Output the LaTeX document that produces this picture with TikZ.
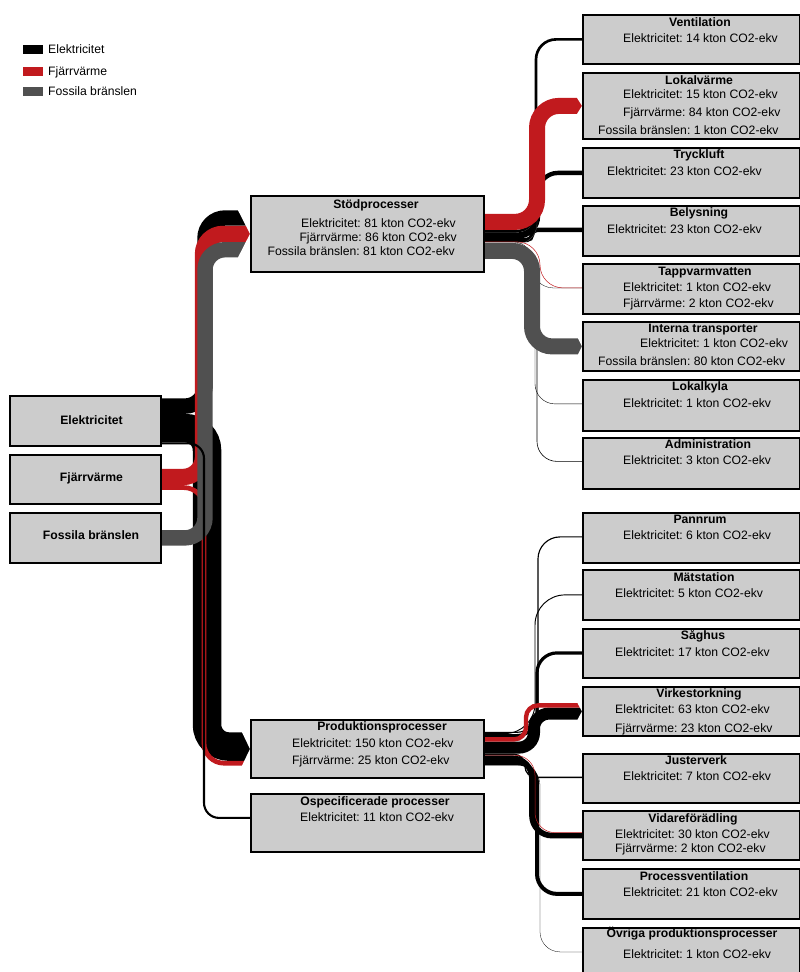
\documentclass[tikz,border=0pt]{standalone}
\usepackage{fontspec}
\setmainfont{Liberation Sans}
\frenchspacing
\usetikzlibrary{calc}
\definecolor{elc}{RGB}{0,0,0}
\definecolor{fvc}{RGB}{193,26,30}
\definecolor{fsc}{RGB}{80,80,80}
\definecolor{boxc}{RGB}{204,204,204}
\pgfdeclarelayer{links}
\pgfsetlayers{links,main}
\tikzset{
  box/.style={draw=black, line width=1.8pt, fill=boxc, rectangle, inner sep=0pt, anchor=north west},
  val/.style={inner sep=0pt, font=\fontsize{12.2}{14}\selectfont, text height=8.8pt, text depth=0pt, anchor=west},
  ttl/.style={inner sep=0pt, font=\fontsize{12.2}{14}\selectfont\bfseries, text height=8.8pt, text depth=0pt},
  swatch/.style={rectangle, inner sep=0pt, minimum width=20pt, minimum height=9pt}
}
% Sankey band: colour, width, corner radius, source node, source offset,
% x of the vertical run, target node, target offset
\newcommand\sankeylink[8]{%
  \coordinate (fs) at ($(#4.east)+(0,#5)$);
  \coordinate (ft) at ($(#7.west)+(0,#8)$);
  \coordinate (fc) at (#6,0);
  \draw[#1, line width=#2pt, rounded corners=#3pt] (fs) -- (fs -| fc) -- (fc |- ft) -- (ft);}
% arrow-shaped end of a bundle at a target: node, top offset, bottom offset, depth
\newcommand\tipcut[4]{%
  \fill[white] ($(#1.west)+(-#4,#2-1)$) -- ($(#1.west)+(-#4,#2)$) -- ($(#1.west)+(0,{(#2+#3)/2})$) -- ($(#1.west)+(0.5,#2-1)$) -- cycle;
  \fill[white] ($(#1.west)+(-#4,#3+1)$) -- ($(#1.west)+(-#4,#3)$) -- ($(#1.west)+(0,{(#2+#3)/2})$) -- ($(#1.west)+(0.5,#3+1)$) -- cycle;}
\begin{document}
\begin{tikzpicture}[x=1pt,y=-1pt]
\useasboundingbox (0,0) rectangle (800,972);

% ---------- boxes ----------
\node[box, minimum width=151pt, minimum height=50pt] (elec) at (9,395) {};
\node[box, minimum width=151pt, minimum height=49pt] (fjv) at (9,454) {};
\node[box, minimum width=151pt, minimum height=50pt] (fos) at (9,512) {};
\node[box, minimum width=233pt, minimum height=76pt] (stod) at (250,195) {};
\node[box, minimum width=233pt, minimum height=58pt] (prod) at (250,719) {};
\node[box, minimum width=233pt, minimum height=58pt] (ospec) at (250,793) {};
\foreach \n/\t/\h in {vent/14/49, lokv/72/66, tryck/147/50, bely/205/50,
  tapp/263/50, intt/321/49, lokk/379/51, adm/437/51,
  pann/512/50, mat/569/50, sag/628/49, virk/686/49,
  just/753/49, vid/810/49, procv/868/50, ovr/927/50}
  \node[box, minimum width=217.4pt, minimum height=\h pt] (\n) at (582,\t) {};

\begin{pgfonlayer}{links}
\fill[white] (0,0) rectangle (800,972);
% sources to the process groups
\sankeylink{elc}{15.4}{20}{elec}{-14.8}{205}{stod}{-15.9}
\sankeylink{elc}{28.5}{22}{elec}{7.2}{207}{prod}{-2.3}
\sankeylink{fvc}{16.3}{20}{fjv}{-2.4}{203}{stod}{0}
\sankeylink{fvc}{4.75}{20}{fjv}{8.2}{204}{prod}{14.3}
\sankeylink{fsc}{15.4}{20}{fos}{0}{205}{stod}{15.8}
\sankeylink{elc}{2.1}{15}{elec}{22.5}{204}{ospec}{-5}

% support processes
\sankeylink{elc}{2.66}{20}{stod}{-2.7}{536}{vent}{0}
\sankeylink{elc}{2.85}{20}{stod}{0}{537}{lokv}{-2}
\sankeylink{elc}{4.37}{20}{stod}{2.5}{538}{tryck}{0}
\sankeylink{elc}{4.37}{5}{stod}{6}{532}{bely}{-1}
\sankeylink{elc}{0.3}{20}{stod}{8}{533}{tapp}{-1}
\sankeylink{elc}{0.3}{20}{stod}{10}{532}{intt}{-3}
\sankeylink{elc}{0.4}{20}{stod}{19}{535}{lokk}{-1.5}
\sankeylink{elc}{0.6}{20}{stod}{21}{537}{adm}{-2}
\sankeylink{fsc}{0.3}{20}{stod}{10}{537}{lokv}{6}
\sankeylink{fvc}{16}{22}{stod}{-12}{537}{lokv}{0}
\sankeylink{fvc}{0.5}{23}{stod}{8}{540}{tapp}{-1}
\sankeylink{fsc}{16}{20}{stod}{17}{532}{intt}{0}

% production processes
\sankeylink{elc}{1.14}{22}{prod}{-16.5}{538}{pann}{-1}
\sankeylink{elc}{0.95}{30}{prod}{-15.4}{535}{mat}{0}
\sankeylink{elc}{3.2}{20}{prod}{-13.3}{537}{sag}{-0.5}
\sankeylink{elc}{12}{15}{prod}{-1.3}{534}{virk}{2.2}
\sankeylink{elc}{1.33}{11}{prod}{5.4}{525}{just}{-1}
\sankeylink{elc}{5.7}{20}{prod}{9.3}{532}{vid}{0.2}
\sankeylink{elc}{4}{20}{prod}{14.2}{537}{procv}{0}
\sankeylink{elc}{0.3}{20}{prod}{16.3}{540}{ovr}{-1}
\sankeylink{fvc}{4.37}{12}{prod}{-9.5}{526}{virk}{-6}
\sankeylink{fvc}{0.5}{20}{prod}{6.3}{535}{vid}{-2.8}

% arrow-shaped band ends
\tipcut{stod}{-23.6}{23.5}{12}
\tipcut{prod}{-16.6}{16.7}{8}
\tipcut{lokv}{-8}{8}{5}
\tipcut{intt}{-8}{8}{4}
\tipcut{virk}{-8.2}{8.2}{4.5}
\end{pgfonlayer}

% ---------- legend ----------
\node[swatch, fill=elc] (keyel) at (33,49.5) {};
\node[swatch, fill=fvc] (keyfv) at (33,71.5) {};
\node[swatch, fill=fsc] (keyfs) at (33,91.5) {};
\node[val] (keyeltxt) at (48,49.5) {Elektricitet};
\node[val] (keyfvtxt) at (48,71.5) {Fjärrvärme};
\node[val] (keyfstxt) at (48,91.5) {Fossila bränslen};

% ---------- texts ----------
\node[ttl] (elecname) at (91.5,420) {Elektricitet};
\node[ttl] (fjvname) at (91.5,477) {Fjärrvärme};
\node[ttl] (fosname) at (91,535) {Fossila bränslen};

\node[ttl] (stodname) at (376,204) {Stödprocesser};
\node[val, anchor=east] (stod1) at (456,223) {Elektricitet: 81 kton CO2-ekv};
\node[val, anchor=east] (stod2) at (457,237) {Fjärrvärme: 86 kton CO2-ekv};
\node[val, anchor=east] (stod3) at (455,251) {Fossila bränslen: 81 kton CO2-ekv};

\node[ttl] (prodname) at (382,726) {Produktionsprocesser};
\node[val] (prod1) at (292,743) {Elektricitet: 150 kton CO2-ekv};
\node[val] (prod2) at (292,760) {Fjärrvärme: 25 kton CO2-ekv};

\node[ttl] (ospecname) at (375,801) {Ospecificerade processer};
\node[val] (ospec1) at (300,817) {Elektricitet: 11 kton CO2-ekv};

\node[ttl] (ventname) at (700,22) {Ventilation};
\node[val] (vent1) at (623,38) {Elektricitet: 14 kton CO2-ekv};

\node[ttl] (lokvname) at (699,80) {Lokalvärme};
\node[val] (lokv1) at (623,94) {Elektricitet: 15 kton CO2-ekv};
\node[val] (lokv2) at (623,112) {Fjärrvärme: 84 kton CO2-ekv};
\node[val] (lokv3) at (598,130) {Fossila bränslen: 1 kton CO2-ekv};

\node[ttl] (tryckname) at (699,154) {Tryckluft};
\node[val] (tryck1) at (607,171) {Elektricitet: 23 kton CO2-ekv};

\node[ttl] (belyname) at (699,212) {Belysning};
\node[val] (bely1) at (607,229) {Elektricitet: 23 kton CO2-ekv};

\node[ttl] (tappname) at (705,271) {Tappvarmvatten};
\node[val] (tapp1) at (623,287) {Elektricitet: 1 kton CO2-ekv};
\node[val] (tapp2) at (623,303) {Fjärrvärme: 2 kton CO2-ekv};

\node[ttl] (inttname) at (703,328) {Interna transporter};
\node[val] (intt1) at (640,343) {Elektricitet: 1 kton CO2-ekv};
\node[val] (intt2) at (598,361) {Fossila bränslen: 80 kton CO2-ekv};

\node[ttl] (lokkname) at (700,386) {Lokalkyla};
\node[val] (lokk1) at (623,403) {Elektricitet: 1 kton CO2-ekv};

\node[ttl] (admname) at (708,444) {Administration};
\node[val] (adm1) at (623,460) {Elektricitet: 3 kton CO2-ekv};

\node[ttl] (pannname) at (700,519) {Pannrum};
\node[val] (pann1) at (623,535) {Elektricitet: 6 kton CO2-ekv};

\node[ttl] (matname) at (704,577) {Mätstation};
\node[val] (mat1) at (615,593) {Elektricitet: 5 kton CO2-ekv};

\node[ttl] (sagname) at (703,635) {Såghus};
\node[val] (sag1) at (615,652) {Elektricitet: 17 kton CO2-ekv};

\node[ttl] (virkname) at (699,693) {Virkestorkning};
\node[val] (virk1) at (615,709) {Elektricitet: 63 kton CO2-ekv};
\node[val] (virk2) at (615,728) {Fjärrvärme: 23 kton CO2-ekv};

\node[ttl] (justname) at (696,760) {Justerverk};
\node[val] (just1) at (623,776) {Elektricitet: 7 kton CO2-ekv};

\node[ttl] (vidname) at (693,818) {Vidareförädling};
\node[val] (vid1) at (615,834) {Elektricitet: 30 kton CO2-ekv};
\node[val] (vid2) at (615,848) {Fjärrvärme: 2 kton CO2-ekv};

\node[ttl] (procvname) at (694,876) {Processventilation};
\node[val] (procv1) at (623,892) {Elektricitet: 21 kton CO2-ekv};

\node[ttl] (ovrname) at (692,933) {Övriga produktionsprocesser};
\node[val] (ovr1) at (623,954) {Elektricitet: 1 kton CO2-ekv};
\end{tikzpicture}
\end{document}
